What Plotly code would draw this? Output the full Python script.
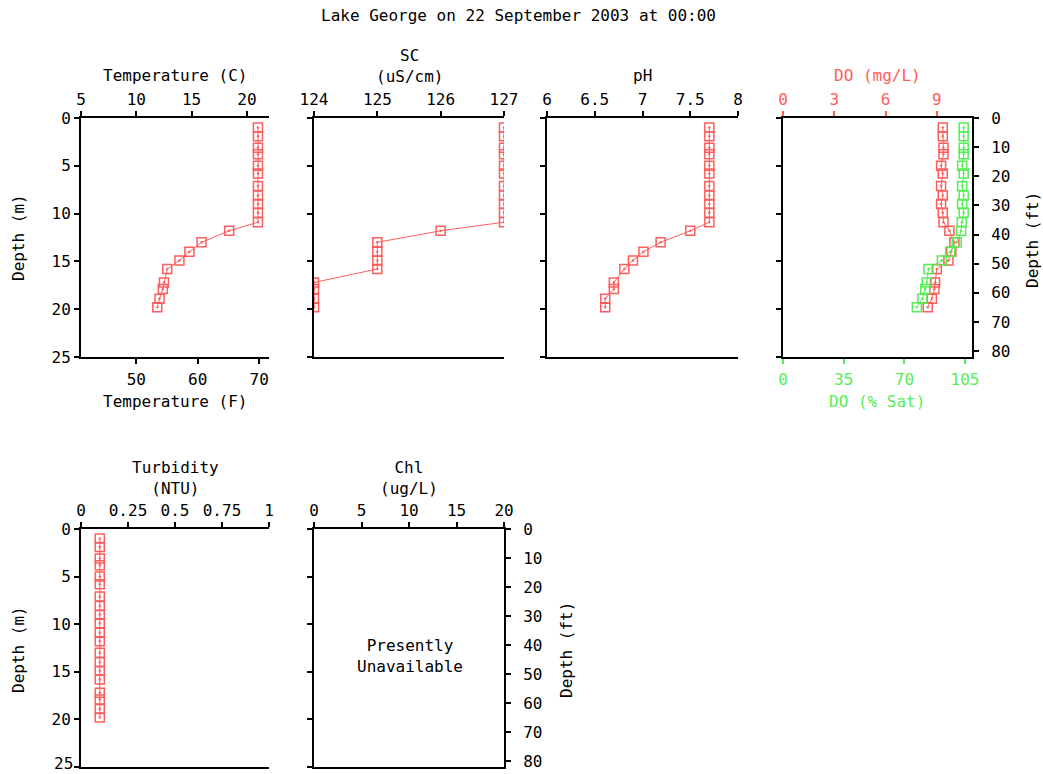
import plotly.graph_objects as go

# ---------------- data ----------------
depth_m = [1.0, 1.9, 3.1, 3.8, 5.0, 5.8, 7.1, 8.1, 9.0, 9.9, 10.9,
           11.8, 13.0, 14.0, 14.9, 15.8, 17.2, 17.9, 18.9, 19.8]
temp_c = [21.0, 21.0, 21.0, 21.0, 21.0, 21.0, 21.0, 21.0, 21.0, 21.0, 21.0,
          18.4, 15.9, 14.8, 13.9, 12.8, 12.5, 12.4, 12.1, 11.9]
sc_us = [127, 127, 127, 127, 127, 127, 127, 127, 127, 127, 127,
         126, 125, 125, 125, 125, 124, 124, 124, 124]
ph = [7.7, 7.7, 7.7, 7.7, 7.7, 7.7, 7.7, 7.7, 7.7, 7.7, 7.7,
      7.5, 7.19, 7.01, 6.9, 6.81, 6.7, 6.7, 6.61, 6.61]
do_mgl = [9.35, 9.35, 9.39, 9.39, 9.25, 9.35, 9.25, 9.35, 9.25, 9.35, 9.39,
          9.74, 10.03, 9.85, 9.68, 9.0, 8.9, 8.86, 8.71, 8.47]
do_sat = [104.2, 104.2, 104.2, 104.2, 103.3, 104.2, 103.3, 104.2, 103.3, 104.2, 103.1,
          102.7, 100.2, 96.4, 91.6, 83.9, 82.9, 82.0, 80.4, 77.2]
turb_ntu = [0.10, 0.10, 0.10, 0.10, 0.10, 0.10, 0.10, 0.10, 0.10, 0.10,
            0.10, 0.10, 0.10, 0.10, 0.10, 0.10, 0.10, 0.10, 0.10, 0.10]

depth_ticks = [0, 5, 10, 15, 20, 25]
depth_labels = ["0", "5", "10", "15", "20", "25"]
ft_ticks = [0, 10, 20, 30, 40, 50, 60, 70, 80]

title_text = "Lake George on 22 September 2003 at 00:00"

# ---------------- style ----------------
W, H = 1043, 774
FONT = "DejaVu Sans Mono"
FS = 16
RED = "#ff5c5c"
GREEN = "#55ee55"


def px_x(a, b):
    return [a / W, b / W]


def px_y(top, bottom):
    return [1 - bottom / H, 1 - top / H]


TOP_ROW = px_y(118, 357)
BOT_ROW = px_y(529, 767)

fig = go.Figure()

marker = dict(symbol="square-open-dot", size=9, line=dict(width=1.5))


def add_series(x, y, xa, ya, color):
    fig.add_trace(go.Scatter(
        x=x, y=y, xaxis=xa, yaxis=ya, mode="lines+markers",
        line=dict(color=color, width=1),
        marker=dict(color=color, **marker),
        showlegend=False, hoverinfo="x+y"))


add_series(temp_c, depth_m, "x", "y", RED)
add_series(sc_us, depth_m, "x3", "y2", RED)
add_series(ph, depth_m, "x4", "y3", RED)
add_series(do_sat, depth_m, "x6", "y4", GREEN)
add_series(do_mgl, depth_m, "x5", "y4", RED)
add_series(turb_ntu, depth_m, "x7", "y6", RED)
# empty traces to realise the remaining axes
for xa, ya in [("x2", "y"), ("x5", "y5"), ("x8", "y7"), ("x8", "y8")]:
    fig.add_trace(go.Scatter(x=[], y=[], xaxis=xa, yaxis=ya, showlegend=False))

base = dict(showline=True, linewidth=2, linecolor="black", ticks="outside",
            ticklen=5, tickwidth=2, tickcolor="black", showgrid=False,
            zeroline=False, tickfont=dict(family=FONT, size=FS, color="black"),
            fixedrange=True, automargin=False, ticklabeloverflow="allow")


def ax(**kw):
    d = dict(base)
    d.update(kw)
    return d


FT_MAX = 25 * 3.28084

layout = dict(
    width=W, height=H, margin=dict(l=0, r=0, t=0, b=0, autoexpand=False),
    paper_bgcolor="white", plot_bgcolor="white",
    font=dict(family=FONT, size=FS, color="black"),
    # Temperature
    xaxis=ax(domain=px_x(81, 269), anchor="y", side="top", range=[5, 22],
             tickvals=[5, 10, 15, 20], ticklabelstandoff=0),
    xaxis2=ax(overlaying="x", anchor="y", side="bottom", range=[41, 71.6],
              tickvals=[50, 60, 70], ticklabelstandoff=2),
    yaxis=ax(domain=TOP_ROW, anchor="x", range=[25, 0], tickvals=depth_ticks,
             ticklabelstandoff=0),
    # SC
    xaxis3=ax(domain=px_x(314, 504), anchor="y2", side="top", range=[124, 127],
              tickvals=[124, 125, 126, 127], mirror=True, ticklabelstandoff=0),
    yaxis2=ax(domain=TOP_ROW, anchor="x3", range=[25, 0], tickvals=depth_ticks,
              showticklabels=False),
    # pH
    xaxis4=ax(domain=px_x(547, 738), anchor="y3", side="top", range=[6, 8],
              tickvals=[6, 6.5, 7, 7.5, 8], ticktext=["6", "6.5", "7", "7.5", "8"],
              mirror=True, ticklabelstandoff=0),
    yaxis3=ax(domain=TOP_ROW, anchor="x4", range=[25, 0], tickvals=depth_ticks,
              showticklabels=False),
    # DO
    xaxis5=ax(domain=px_x(783, 972), anchor="y4", side="top", range=[0, 11.06],
              tickvals=[0, 3, 6, 9], tickcolor=RED,
              tickfont=dict(family=FONT, size=FS, color=RED), ticklabelstandoff=0),
    xaxis6=ax(overlaying="x5", anchor="y4", side="bottom", range=[0, 109.0],
              tickvals=[0, 35, 70, 105], tickcolor=GREEN,
              tickfont=dict(family=FONT, size=FS, color=GREEN), ticklabelstandoff=2),
    yaxis4=ax(domain=TOP_ROW, anchor="x5", range=[25, 0], tickvals=depth_ticks,
              showticklabels=False),
    yaxis5=ax(overlaying="y4", anchor="x5", side="right", range=[FT_MAX, 0],
              tickvals=ft_ticks, ticklabelstandoff=9),
    # Turbidity (last label drawn separately so it stays inside the page)
    xaxis7=ax(domain=px_x(81, 269), anchor="y6", side="top", range=[0, 1],
              tickvals=[0, 0.25, 0.5, 0.75, 1],
              ticktext=["0", "0.25", "0.5", "0.75", "1"], mirror=True,
              ticklabelstandoff=0),
    yaxis6=ax(domain=BOT_ROW, anchor="x7", range=[25, 0], tickvals=depth_ticks,
              ticktext=depth_labels[:-1] + [""], ticklabelstandoff=0),
    # Chl
    xaxis8=ax(domain=px_x(314, 504), anchor="y7", side="top", range=[0, 20],
              tickvals=[0, 5, 10, 15, 20], mirror=True, ticklabelstandoff=0),
    yaxis7=ax(domain=BOT_ROW, anchor="x8", range=[25, 0], tickvals=depth_ticks,
              showticklabels=False),
    yaxis8=ax(overlaying="y7", anchor="x8", side="right", range=[FT_MAX, 0],
              tickvals=ft_ticks, ticklabelstandoff=9),
)
fig.update_layout(**layout)


def label(text, x, y, color="black", angle=0, xanchor="center", yanchor="middle"):
    fig.add_annotation(text=text, x=x / W, y=1 - y / H, xref="paper", yref="paper",
                       showarrow=False, xanchor=xanchor, yanchor=yanchor,
                       textangle=angle, font=dict(family=FONT, size=FS, color=color),
                       borderpad=0)


label(title_text, 518, 15)
label("Temperature (C)", 175, 76)
label("Temperature (F)", 175, 401)
label("SC<br>(uS/cm)", 409, 66)
label("pH", 642, 76)
label("DO (mg/L)", 877, 76, RED)
label("DO (% Sat)", 877, 401, GREEN)
label("Depth (m)", 18, 238, angle=-90)
label("Depth (ft)", 1032, 240, angle=-90)
label("Turbidity<br>(NTU)", 175, 478)
label("Chl<br>(ug/L)", 409, 478)
label("Depth (m)", 18, 650, angle=-90)
label("Depth (ft)", 566, 650, angle=-90)
label("Presently<br>Unavailable", 410, 656)
label(depth_labels[-1], 74, 774, xanchor="right", yanchor="bottom")

fig.write_html(
    "out.html",
    config={"displayModeBar": False},
    post_script="document.body.style.margin='0';document.body.style.overflow='hidden';",
)
